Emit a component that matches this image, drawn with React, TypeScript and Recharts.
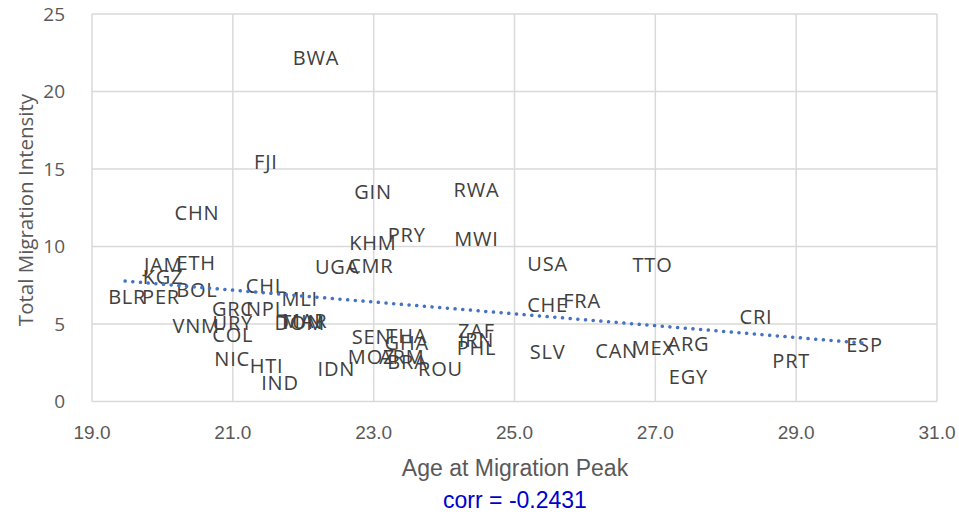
import React from 'react';
import { ScatterChart, Scatter, XAxis, YAxis, CartesianGrid } from 'recharts';

const countries = ['BWA','FJI','CHN','GIN','RWA','PRY','MWI','KHM','UGA','CMR','USA','TTO','JAM','ETH','KGZ','BLR','PER','BOL','CHL','MLI','FRA','CHE','GRC','NPL','CRI','VNM','URY','DOM','MAR','TUN','COL','SEN','THA','ZAF','GHA','IRN','PHL','SLV','CAN','MEX','ARG','PRT','ESP','NIC','HTI','IDN','MOZ','ARM','BRA','ROU','EGY','IND'];
const ages = [22.18,21.47,20.49,22.99,24.46,23.47,24.46,22.99,22.48,22.96,25.47,26.96,20.01,20.48,20.01,19.50,19.98,20.49,21.47,21.95,25.96,25.47,21.0,21.47,28.43,20.48,21.0,21.95,22.02,21.98,21.0,22.97,23.47,24.46,23.47,24.46,24.46,25.47,26.45,26.97,27.47,28.93,29.97,20.99,21.48,22.47,22.97,23.40,23.48,23.95,27.47,21.67];
const intensities = [22.16,15.45,12.16,13.52,13.65,10.74,10.48,10.23,8.68,8.74,8.87,8.81,8.81,8.94,8.03,6.74,6.74,7.19,7.45,6.61,6.48,6.23,5.97,5.97,5.45,4.87,5.06,5.06,5.19,5.13,4.29,4.16,4.23,4.55,3.77,3.97,3.45,3.19,3.26,3.45,3.71,2.61,3.65,2.74,2.29,2.10,2.87,2.87,2.55,2.10,1.58,1.19];
const trendAges = [19.47, 29.94];
const trendValues = [7.77, 3.77];
const xTicks = [19, 21, 23, 25, 27, 29, 31];
const yTicks = [0, 5, 10, 15, 20, 25];

const points = countries.map((name, i) => ({ name, x: ages[i], y: intensities[i] }));
const trend = trendAges.map((x, i) => ({ x, y: trendValues[i] }));

const LabelShape = (p: any) => (
  <text
    x={p.cx}
    y={p.cy}
    dy="0.36em"
    textAnchor="middle"
    fill="#404040"
    fontFamily="'Open Sans', sans-serif"
    fontSize={20}
    letterSpacing={0.8}
  >
    {p.payload.name}
  </text>
);

export default function App() {
  return (
    <div style={{ position: 'absolute', left: 0, top: 0, width: 959, height: 519, background: '#fff' }}>
      <ScatterChart width={959} height={519} margin={{ top: 14, right: 22, left: 42, bottom: 77.5 }}>
        <CartesianGrid stroke="#d9d9d9" strokeWidth={1.5} />
        <XAxis
          type="number"
          dataKey="x"
          domain={[19, 31]}
          ticks={xTicks}
          tickFormatter={(v: number) => v.toFixed(1)}
          axisLine={false}
          tickLine={false}
          tickSize={0}
          tickMargin={24}
          height={40}
          tick={{ fill: '#595959', fontSize: 19, fontFamily: "'Liberation Sans Narrow', 'Liberation Sans', sans-serif" }}
        />
        <YAxis
          type="number"
          dataKey="y"
          domain={[0, 25]}
          ticks={yTicks}
          axisLine={false}
          tickLine={false}
          tickSize={0}
          tickMargin={27}
          width={50}
          tick={{ fill: '#595959', fontSize: 19, fontFamily: "'Open Sans', sans-serif" }}
        />
        <Scatter data={points} shape={LabelShape} isAnimationActive={false} />
        <Scatter
          data={trend}
          shape={() => <g />}
          line={{ stroke: '#4472C4', strokeWidth: 3.5, strokeDasharray: '0.1 7.6', strokeLinecap: 'round' }}
          isAnimationActive={false}
        />
      </ScatterChart>
      <div style={{ position: 'absolute', left: 515, top: 468, transform: 'translate(-50%, -50%)', whiteSpace: 'nowrap', color: '#595959', fontSize: 23, fontFamily: "'Liberation Sans Narrow', 'Liberation Sans', sans-serif" }}>
        Age at Migration Peak
      </div>
      <div style={{ position: 'absolute', left: 515, top: 500, transform: 'translate(-50%, -50%)', whiteSpace: 'nowrap', color: '#0000CC', fontSize: 23, fontFamily: "'Liberation Sans Narrow', 'Liberation Sans', sans-serif" }}>
        corr = -0.2431
      </div>
      <div style={{ position: 'absolute', left: 25, top: 210, transform: 'translate(-50%, -50%) rotate(-90deg)', whiteSpace: 'nowrap', color: '#595959', fontSize: 20.5, fontFamily: "'Open Sans', sans-serif" }}>
        Total Migration Intensity
      </div>
    </div>
  );
}
